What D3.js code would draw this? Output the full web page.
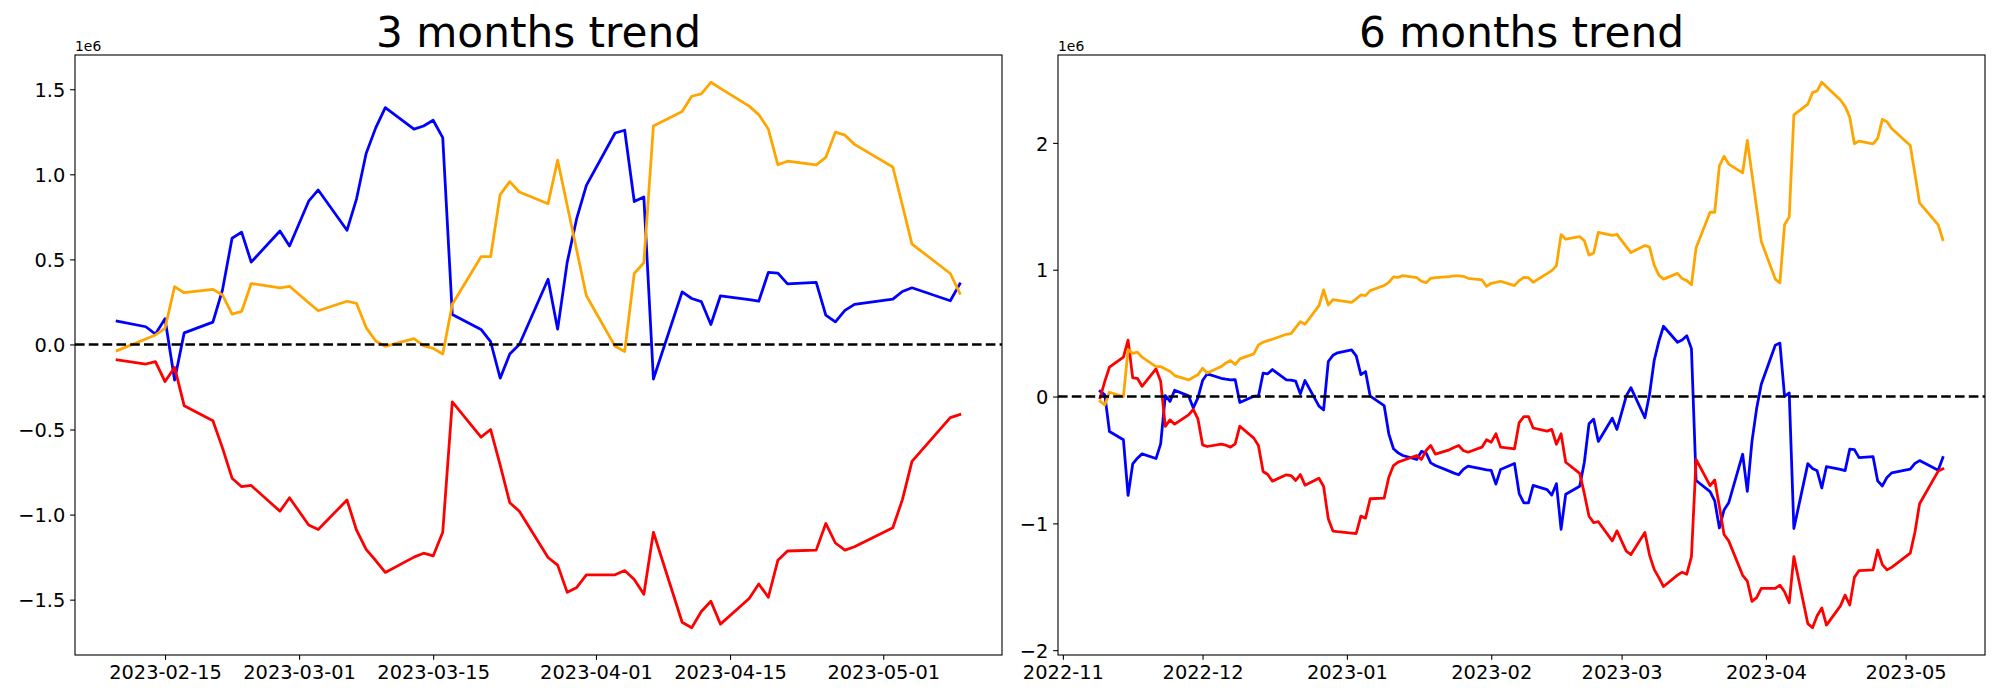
<!DOCTYPE html>
<html>
<head>
<meta charset="utf-8">
<script src="https://cdn.jsdelivr.net/npm/d3@7"></script>
<style>
  body { margin: 0; background: #fff; }
  text { font-family: "DejaVu Sans", sans-serif; }
</style>
</head>
<body>
<script>
// values are in units of 1e6

var dates3 = ["2023-02-10","2023-02-13","2023-02-14","2023-02-15","2023-02-16","2023-02-17",
  "2023-02-20","2023-02-21","2023-02-22","2023-02-23","2023-02-24","2023-02-27","2023-02-28",
  "2023-03-02","2023-03-03","2023-03-06","2023-03-07","2023-03-08","2023-03-09","2023-03-10",
  "2023-03-13","2023-03-14","2023-03-15","2023-03-16","2023-03-17","2023-03-20","2023-03-21",
  "2023-03-22","2023-03-23","2023-03-24","2023-03-27","2023-03-28","2023-03-29","2023-03-30",
  "2023-03-31","2023-04-03","2023-04-04","2023-04-05","2023-04-06","2023-04-07","2023-04-10",
  "2023-04-11","2023-04-12","2023-04-13","2023-04-14","2023-04-17","2023-04-18","2023-04-19",
  "2023-04-20","2023-04-21","2023-04-24","2023-04-25","2023-04-26","2023-04-27","2023-04-28",
  "2023-05-02","2023-05-03","2023-05-04","2023-05-08","2023-05-09"];

var blue3 = [0.137,0.104,0.061,0.151,-0.209,0.068,0.131,0.320,0.624,0.660,0.484,0.667,0.579,
  0.842,0.908,0.671,0.856,1.122,1.273,1.392,1.266,1.284,1.318,1.216,0.176,0.088,0.016,-0.198,-0.056,0.000,
  0.383,0.090,0.484,0.743,0.935,
  1.243,1.259,0.840,0.867,-0.203,0.309,0.270,0.252,0.117,0.286,0.264,0.254,0.423,0.419,0.356,
  0.365,0.173,0.133,0.200,0.236,
  0.266,0.311,0.333,0.257,0.356];

var red3 = [-0.090,-0.115,-0.101,-0.218,-0.135,-0.360,-0.448,-0.608,-0.786,-0.836,-0.829,-0.980,-0.901,
  -1.061,-1.088,-0.914,-1.092,-1.205,-1.270,-1.340,-1.250,-1.227,-1.243,-1.104,-0.338,-0.545,-0.500,-0.709,-0.930,-0.980,
  -1.252,-1.297,-1.457,-1.428,-1.354,
  -1.354,-1.329,-1.381,-1.468,-1.104,-1.633,-1.665,-1.570,-1.509,-1.644,-1.493,-1.408,-1.486,-1.268,-1.214,
  -1.209,-1.052,-1.167,-1.209,-1.189,
  -1.077,-0.912,-0.687,-0.430,-0.412];

var orange3 = [-0.036,0.032,0.056,0.095,0.340,0.304,0.324,0.291,0.178,0.194,0.358,0.333,0.342,
  0.245,0.198,0.254,0.241,0.099,0.020,-0.011,0.034,-0.007,-0.023,-0.056,0.236,0.516,0.516,0.881,0.957,0.896,
  0.827,1.083,0.817,0.551,0.286,
  -0.011,-0.041,0.417,0.480,1.284,1.369,1.459,1.473,1.541,1.505,1.401,1.351,1.266,1.056,1.077,
  1.056,1.099,1.248,1.230,1.176,
  1.043,0.818,0.590,0.417,0.300];

var dates6 = ["2022-11-09","2022-11-10","2022-11-11","2022-11-14","2022-11-15","2022-11-16","2022-11-17",
  "2022-11-18","2022-11-21","2022-11-22","2022-11-23","2022-11-24","2022-11-25","2022-11-28","2022-11-29",
  "2022-11-30","2022-12-01","2022-12-02","2022-12-05","2022-12-06","2022-12-07","2022-12-08","2022-12-09",
  "2022-12-12","2022-12-13","2022-12-14","2022-12-15","2022-12-16","2022-12-19","2022-12-20","2022-12-21",
  "2022-12-22","2022-12-23","2022-12-26","2022-12-27","2022-12-28","2022-12-29","2022-12-30","2023-01-02",
  "2023-01-03","2023-01-04","2023-01-05","2023-01-06","2023-01-09","2023-01-10","2023-01-11","2023-01-12",
  "2023-01-13","2023-01-16","2023-01-17","2023-01-18","2023-01-19","2023-01-20","2023-01-23","2023-01-24",
  "2023-01-25","2023-01-26","2023-01-27","2023-01-30","2023-01-31","2023-02-01","2023-02-02","2023-02-03",
  "2023-02-06","2023-02-07","2023-02-08","2023-02-09",
  "2023-02-10","2023-02-13","2023-02-14","2023-02-15","2023-02-16","2023-02-17",
  "2023-02-20","2023-02-21","2023-02-22","2023-02-23","2023-02-24","2023-02-27","2023-02-28",
  "2023-03-02","2023-03-03","2023-03-06","2023-03-07","2023-03-08","2023-03-09","2023-03-10",
  "2023-03-13","2023-03-14","2023-03-15","2023-03-16","2023-03-17","2023-03-20","2023-03-21",
  "2023-03-22","2023-03-23","2023-03-24","2023-03-27","2023-03-28","2023-03-29","2023-03-30",
  "2023-03-31","2023-04-03","2023-04-04","2023-04-05","2023-04-06","2023-04-07","2023-04-10",
  "2023-04-11","2023-04-12","2023-04-13","2023-04-14","2023-04-17","2023-04-18","2023-04-19",
  "2023-04-20","2023-04-21","2023-04-24","2023-04-25","2023-04-26","2023-04-27","2023-04-28",
  "2023-05-02","2023-05-03","2023-05-04","2023-05-08","2023-05-09"];

var blue6 = [0.042,0.013,-0.276,-0.341,-0.780,-0.531,-0.486,-0.452,-0.489,-0.373,0.008,-0.039,0.050,0.005,-0.089,-0.011,
  0.126,0.179,0.144,0.137,0.131,0.134,-0.047,0.003,0.003,0.184,0.179,0.213,0.131,0.129,0.121,0.021,0.126,-0.076,-0.105,0.276,0.325,0.345,
  0.368,0.320,0.173,0.197,0.003,-0.071,-0.294,-0.412,-0.444,-0.465,-0.496,-0.433,-0.444,-0.523,-0.544,-0.588,-0.604,-0.617,-0.575,-0.549,-0.570,-0.578,
  -0.583,-0.691,-0.575,-0.528,-0.765,-0.838,-0.838,
  -0.701,-0.734,-0.777,-0.687,-1.047,-0.770,-0.707,-0.518,-0.214,-0.178,-0.354,-0.171,-0.259,
  0.004,0.070,-0.167,0.018,0.284,0.435,0.554,0.428,0.446,0.480,0.378,-0.662,-0.750,-0.822,-1.036,-0.894,-0.838,
  -0.455,-0.748,-0.354,-0.095,0.097,
  0.405,0.421,0.002,0.029,-1.041,-0.529,-0.568,-0.586,-0.721,-0.552,-0.574,-0.584,-0.415,-0.419,-0.482,
  -0.473,-0.665,-0.705,-0.638,-0.602,
  -0.572,-0.527,-0.505,-0.581,-0.482];

var red6 = [-0.010,0.120,0.231,0.310,0.445,0.147,0.144,0.081,0.218,0.120,-0.236,-0.184,-0.218,-0.144,-0.102,-0.176,
  -0.381,-0.394,-0.376,-0.384,-0.399,-0.373,-0.234,-0.328,-0.386,-0.591,-0.615,-0.667,-0.617,-0.623,-0.662,-0.615,-0.699,-0.644,-0.709,-0.964,-1.061,-1.066,
  -1.077,-1.080,-0.943,-0.959,-0.806,-0.801,-0.636,-0.544,-0.517,-0.504,-0.465,-0.496,-0.426,-0.386,-0.454,-0.420,-0.402,-0.386,-0.426,-0.439,-0.399,-0.341,
  -0.360,-0.294,-0.399,-0.412,-0.205,-0.158,-0.158,
  -0.248,-0.273,-0.259,-0.376,-0.293,-0.518,-0.606,-0.766,-0.944,-0.994,-0.987,-1.138,-1.059,
  -1.219,-1.246,-1.072,-1.250,-1.363,-1.428,-1.498,-1.408,-1.385,-1.401,-1.262,-0.496,-0.703,-0.658,-0.867,-1.088,-1.138,
  -1.410,-1.455,-1.615,-1.586,-1.512,
  -1.512,-1.487,-1.539,-1.626,-1.262,-1.791,-1.823,-1.728,-1.667,-1.802,-1.651,-1.566,-1.644,-1.426,-1.372,
  -1.367,-1.210,-1.325,-1.367,-1.347,
  -1.235,-1.070,-0.845,-0.588,-0.570];

var orange6 = [-0.037,-0.066,0.034,0.000,0.370,0.340,0.350,0.310,0.236,0.236,0.218,0.200,0.165,0.131,0.152,0.171,
  0.223,0.186,0.236,0.265,0.284,0.252,0.297,0.336,0.407,0.428,0.441,0.452,0.491,0.496,0.544,0.591,0.570,0.717,0.841,0.722,0.764,0.759,
  0.743,0.770,0.801,0.796,0.835,0.875,0.900,0.943,0.940,0.953,0.938,0.909,0.898,0.932,0.938,0.946,0.951,0.951,0.948,0.932,0.919,0.869,
  0.893,0.900,0.909,0.875,0.914,0.940,0.937,
  0.901,0.969,0.993,1.032,1.277,1.241,1.261,1.228,1.115,1.131,1.295,1.270,1.279,
  1.182,1.135,1.191,1.178,1.036,0.957,0.926,0.971,0.930,0.914,0.881,1.173,1.453,1.453,1.818,1.894,1.833,
  1.764,2.020,1.754,1.488,1.223,
  0.926,0.896,1.354,1.417,2.221,2.306,2.396,2.410,2.478,2.442,2.338,2.288,2.203,1.993,2.014,
  1.993,2.036,2.185,2.167,2.113,
  1.980,1.755,1.527,1.354,1.237];

var xTicks3 = ["2023-02-15","2023-03-01","2023-03-15","2023-04-01","2023-04-15","2023-05-01"];
var xTicks6 = ["2022-11-01","2022-12-01","2023-01-01","2023-02-01","2023-03-01","2023-04-01","2023-05-01"];
var yTicks3 = [-1.5,-1.0,-0.5,0.0,0.5,1.0,1.5];
var yTicks6 = [-2,-1,0,1,2];

var w = 2000,
    h = 700;

var top_ = 55,
    bottom = 655,
    tickLen = 4.86,
    parse = d3.utcParse("%Y-%m-%d");

var svg = d3.select("body")
            .append("svg")
            .attr("width", w)
            .attr("height", h);

svg.append("rect")
   .attr("width", w)
   .attr("height", h)
   .attr("fill", "white");

function panel(x0, x1, title, dates, series, xTicks, xFmt, yTicks, yFmt) {
  var days = dates.map(parse);
  var t0 = days[0].getTime(),
      t1 = days[days.length - 1].getTime(),
      tpad = (t1 - t0) * 0.05;

  var all = [];
  series.forEach(function(s) { all = all.concat(s.values); });
  var vmin = d3.min(all),
      vmax = d3.max(all),
      vpad = (vmax - vmin) * 0.05;

  var x = d3.scaleUtc()
            .domain([new Date(t0 - tpad), new Date(t1 + tpad)])
            .range([x0, x1]);

  var y = d3.scaleLinear()
            .domain([vmin - vpad, vmax + vpad])
            .range([bottom, top_]);

  var g = svg.append("g");

  series.forEach(function(s) {
    var line = d3.line()
                 .x(function(d, i) { return x(days[i]); })
                 .y(function(d) { return y(d); });
    g.append("path")
     .datum(s.values)
     .attr("d", line)
     .attr("fill", "none")
     .attr("stroke", s.color)
     .attr("stroke-width", 2.78)
     .attr("stroke-linejoin", "round")
     .attr("stroke-linecap", "square");
  });

  // zero line
  g.append("line")
   .attr("x1", x0)
   .attr("x2", x1)
   .attr("y1", y(0))
   .attr("y2", y(0))
   .attr("stroke", "black")
   .attr("stroke-width", 2.4)
   .attr("stroke-dasharray", "9.6,4.2");

  g.append("rect")
   .attr("x", x0)
   .attr("y", top_)
   .attr("width", x1 - x0)
   .attr("height", bottom - top_)
   .attr("fill", "none")
   .attr("stroke", "black")
   .attr("stroke-width", 1.1);

  var xAxis = g.append("g")
               .attr("transform", "translate(0," + bottom + ")")
               .call(d3.axisBottom(x)
                       .tickValues(xTicks.map(parse))
                       .tickFormat(xFmt)
                       .tickSize(tickLen)
                       .tickPadding(tickLen));

  var yAxis = g.append("g")
               .attr("transform", "translate(" + x0 + ",0)")
               .call(d3.axisLeft(y)
                       .tickValues(yTicks)
                       .tickFormat(yFmt)
                       .tickSize(tickLen)
                       .tickPadding(tickLen));

  [xAxis, yAxis].forEach(function(a) {
    a.select(".domain").remove();
    a.selectAll("line").attr("stroke", "black").attr("stroke-width", 1.1);
    a.selectAll("text")
     .attr("fill", "black")
     .style("font-family", "'DejaVu Sans', sans-serif")
     .style("font-size", "19.4px");
  });
  xAxis.selectAll("text").attr("dy", "0.76em");
  yAxis.selectAll("text").attr("dy", "0.37em");

  g.append("text")
   .attr("x", x0)
   .attr("y", 50.5)
   .attr("font-size", "13.9px")
   .attr("fill", "black")
   .text("1e6");

  g.append("text")
   .attr("x", (x0 + x1) / 2)
   .attr("y", 46.7)
   .attr("text-anchor", "middle")
   .attr("font-size", "42.2px")
   .attr("fill", "black")
   .text(title);
}

panel(75, 1002, "3 months trend", dates3,
      [ {values: blue3, color: "blue"},
        {values: red3, color: "red"},
        {values: orange3, color: "orange"} ],
      xTicks3, d3.utcFormat("%Y-%m-%d"),
      yTicks3, d3.format(".1f"));

panel(1058, 1985, "6 months trend", dates6,
      [ {values: blue6, color: "blue"},
        {values: red6, color: "red"},
        {values: orange6, color: "orange"} ],
      xTicks6, d3.utcFormat("%Y-%m"),
      yTicks6, d3.format("d"));
</script>
</body>
</html>
